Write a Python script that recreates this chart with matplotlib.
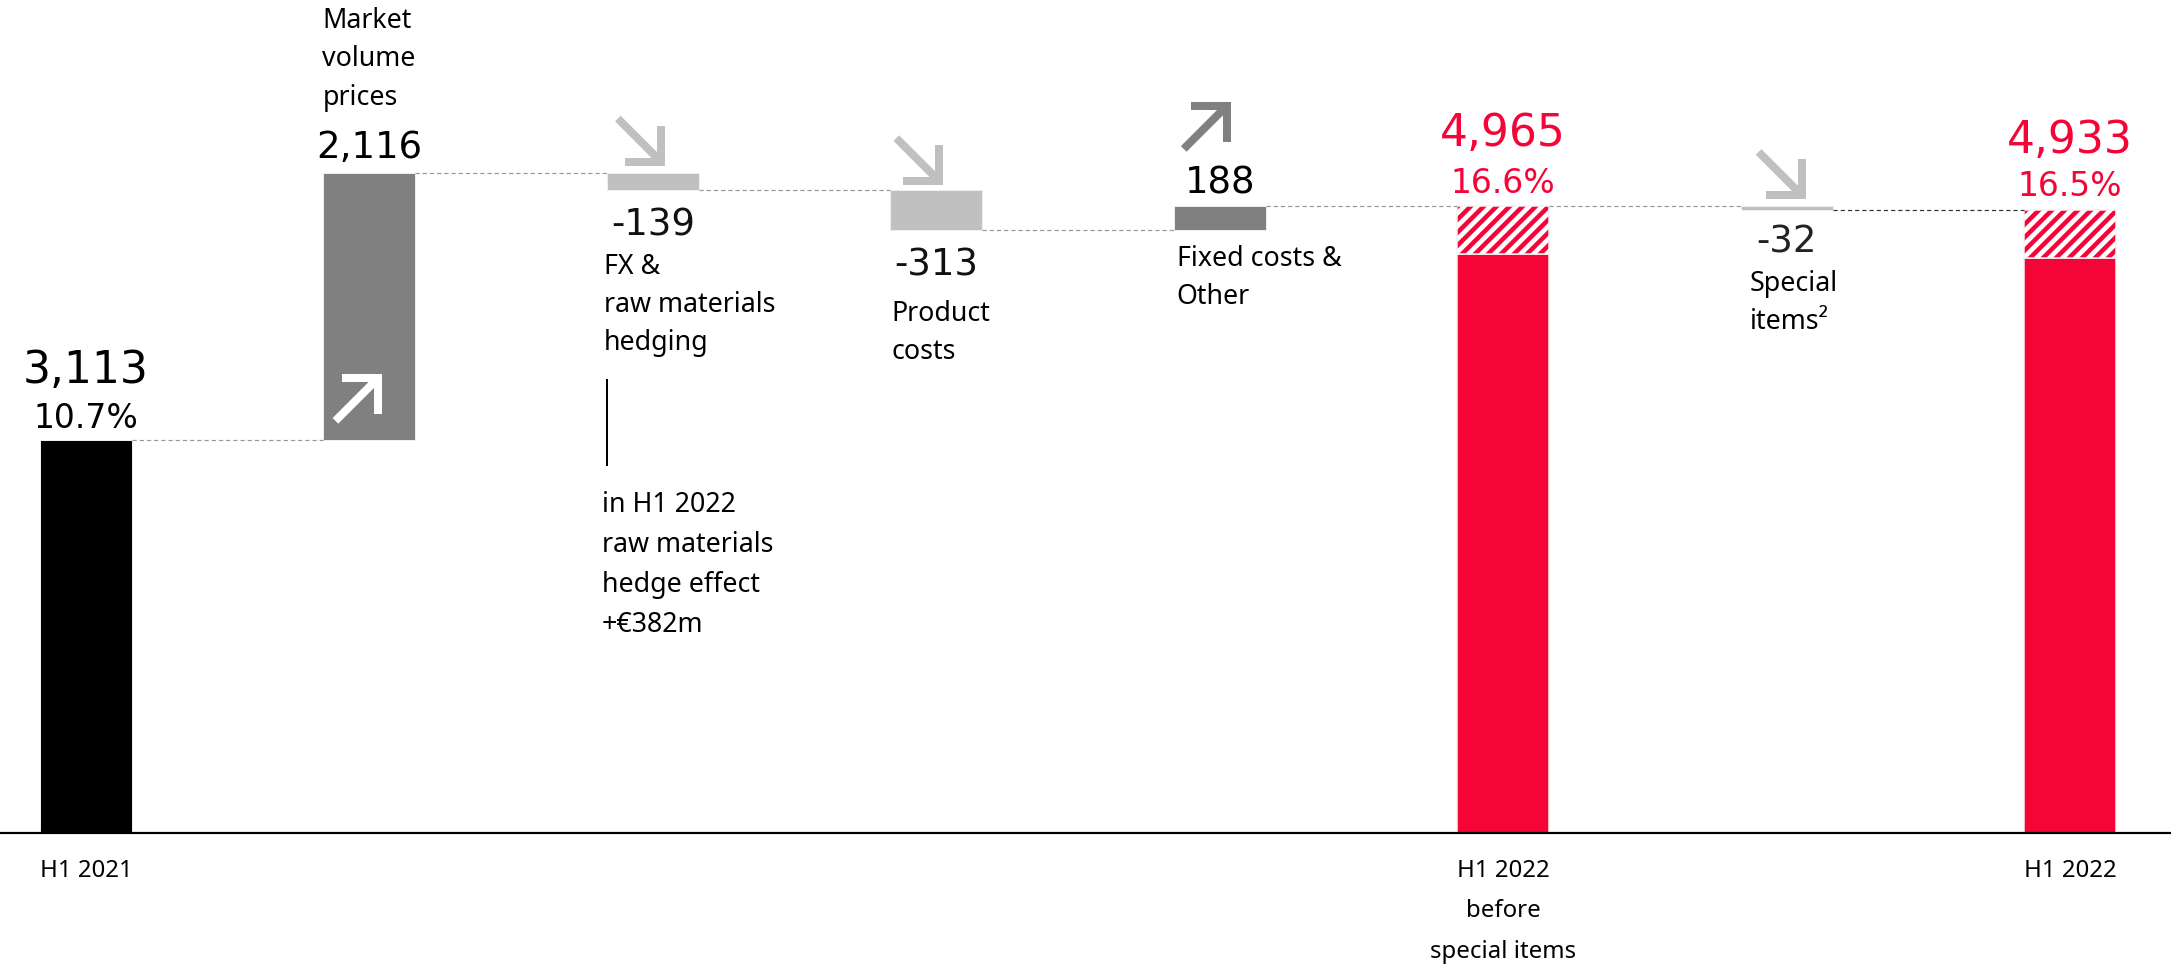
import numpy as np
import matplotlib.pyplot as plt

W, H, DPI = 2171, 968, 78

categories = ['H1 2021', 'Market\nvolume\nprices', 'FX &\nraw materials\nhedging', 'Product\ncosts',
              'Fixed costs &\nOther', 'H1 2022\nbefore\nspecial items', 'Special\nitems\u00b2', 'H1 2022']
values = [3113, 2116, -139, -313, 188, 4965, -32, 4933]
is_total = [True, False, False, False, False, True, False, True]
value_labels = ['3,113', '2,116', '-139', '-313', '188', '4,965', '-32', '4,933']
margins = ['10.7%', '', '', '', '', '16.6%', '', '16.5%']
hedge_effect = 382
hedge_note = 'in H1 2022\nraw materials\nhedge effect\n+\u20ac382m'

RED = '#f50537'
MID = '#808080'
LIGHT = '#c0c0c0'
colors = ['#000000', MID, LIGHT, LIGHT, MID, RED, LIGHT, RED]

# pixel scales of the reference (px per data unit)
PXX = 283.43
PXY = 0.1263
BASE = 833
WIDTH = 92 / PXX


def pt(px):
    return px * 72 / DPI


# waterfall geometry
bottoms, tops, ends = [], [], []
run = 0
for v, t in zip(values, is_total):
    if t:
        lo, hi = 0, v
        run = v
    else:
        lo, hi = min(run, run + v), max(run, run + v)
        run += v
    bottoms.append(lo)
    tops.append(hi)
    ends.append(run)

plt.rcParams['hatch.linewidth'] = pt(4.5)
fig = plt.figure(figsize=(W / DPI, H / DPI), dpi=DPI)
ax = fig.add_axes([0, 0, 1, 1])
ax.set_xlim(-86 / PXX, (W - 86) / PXX)
ax.set_ylim(-(H - BASE) / PXY, BASE / PXY)
ax.axis('off')

x = np.arange(len(values))
for i in x:
    if colors[i] == RED:
        solid = tops[i] - hedge_effect
        ax.bar(i, solid, bottom=0, width=WIDTH, color=RED, edgecolor='#f4f4f4', linewidth=pt(1.5))
        ax.bar(i, hedge_effect, bottom=solid, width=WIDTH, color='white', edgecolor=RED,
               hatch='//', linewidth=0)
        ax.bar(i, hedge_effect, bottom=solid, width=WIDTH, color='none', edgecolor='#f4f4f4',
               linewidth=pt(1.5))
    else:
        ax.bar(i, tops[i] - bottoms[i], bottom=bottoms[i], width=WIDTH, color=colors[i],
               edgecolor='#eeeeee', linewidth=pt(1))

ax.axhline(0, color='black', lw=pt(2.2))

# dashed connectors
for i in range(len(values) - 1):
    c = '#333333' if i == 6 else '#999999'
    ax.plot([i + WIDTH / 2, i + 1 - WIDTH / 2], [ends[i], ends[i]], color=c, lw=pt(1.2),
            linestyle=(0, (3.5, 2.5)))

NUM = 'DejaVu Sans'
LAB = 'Noto Sans'


def note(xv, yv, s, dx, dy, **kw):
    # va='baseline' puts the last line's baseline on the anchor
    ax.annotate(s, (xv, yv), xytext=(dx, dy), textcoords='offset pixels', **kw)


# value labels
big = pt(44)
mid = pt(37)
pct = pt(33)
for i in x:
    if is_total[i]:
        c = RED if colors[i] == RED else 'black'
        dy = {0: 57, 5: 60, 7: 57}[i]
        note(i, tops[i], value_labels[i], 0, dy, ha='center', va='baseline', fontsize=big,
             color=c, family=NUM)
        mdy = {0: 12, 5: 13, 7: 14}[i]
        note(i, tops[i], margins[i], 0, mdy, ha='center', va='baseline', fontsize=pct,
             color=c, family=NUM)
        bdy = -44 if '\n' not in categories[i] else -125
        note(i, 0, categories[i], 0, bdy, ha='center', va='baseline', fontsize=pt(24),
             family=LAB, linespacing=1.93, multialignment='center')
    else:
        if values[i] > 0:
            dy = {1: 15, 4: 12}[i]
            note(i, tops[i], value_labels[i], 0, dy, ha='center', va='baseline', fontsize=mid,
                 family=NUM)
        else:
            dy = {2: -45, 3: -46, 6: -43}[i]
            note(i, bottoms[i], value_labels[i], 0, dy, ha='center', va='baseline', fontsize=mid,
                 family=NUM, color='#111111' if i != 6 else '#222222')

# category labels beside the step bars (offset of the last line's baseline)
lab_pos = {1: ('top', -1, 68), 2: ('bottom', -3, -160), 3: ('bottom', 1, -129),
           4: ('bottom', 3, -74), 6: ('bottom', 9, -119)}
for i, (edge, dx, dy) in lab_pos.items():
    yv = tops[i] if edge == 'top' else bottoms[i]
    note(i - WIDTH / 2, yv, categories[i], dx, dy, ha='left', va='baseline',
         fontsize=pt(26.8), family=LAB, linespacing=1.48)

# hedge note under FX bar
fx_left = 2 - WIDTH / 2
ax.plot([fx_left, fx_left], [bottoms[2] - 190 / PXY, bottoms[2] - 275 / PXY], color='black',
        lw=pt(2))
note(fx_left, bottoms[2], hedge_note, -5, -442, ha='left', va='baseline', fontsize=pt(26.8),
     family=LAB, linespacing=1.58)

# arrows (box coordinates in px, 50 px box)
UP = [[(3, 3), (44, 44)], [(10, 46), (46, 46), (46, 10)]]
DOWN = [[(3, 47), (44, 6)], [(46, 40), (46, 4), (10, 4)]]
arrows = [(1, UP, 'bottom', 9, 16, 'white'), (2, DOWN, 'top', 8, 7, LIGHT),
          (3, DOWN, 'top', 3, 5, LIGHT), (4, UP, 'top', 7, 54, MID),
          (6, DOWN, 'top', 15, 7, LIGHT)]
for i, shape, edge, dx, dy, c in arrows:
    yv = tops[i] if edge == 'top' else bottoms[i]
    for seg in shape:
        xs = [i - WIDTH / 2 + (dx + px) / PXX for px, py in seg]
        ys = [yv + (dy + py) / PXY for px, py in seg]
        ax.plot(xs, ys, color=c, lw=pt(8), solid_capstyle='butt', solid_joinstyle='miter')

fig.savefig('out.png', dpi=DPI)
